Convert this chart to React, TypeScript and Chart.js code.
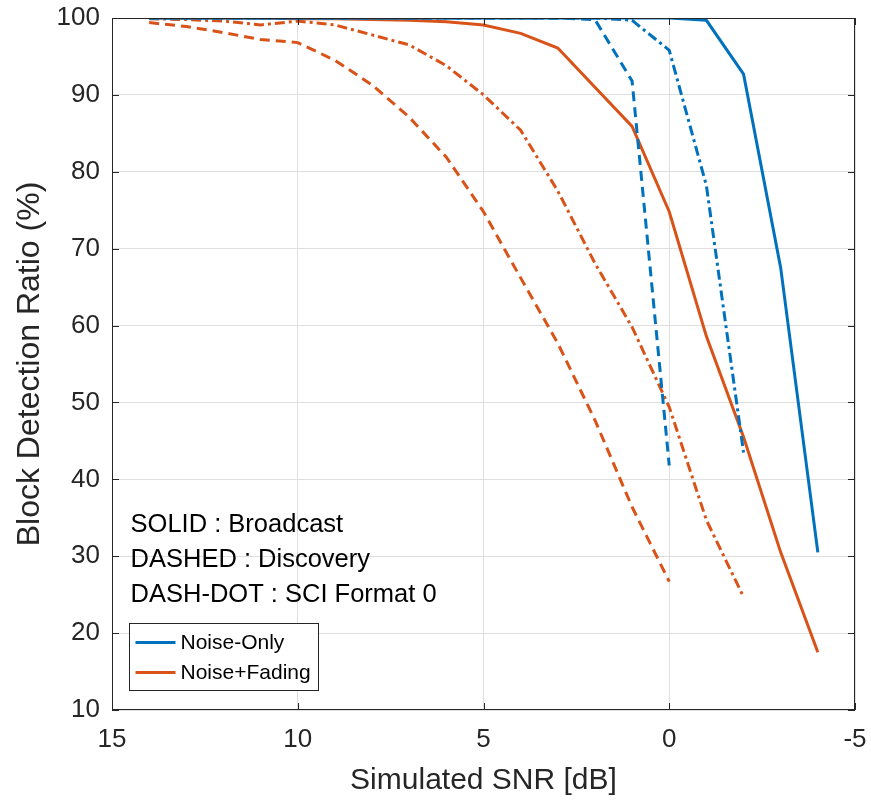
import React, { useEffect, useRef } from 'react';
import { Chart, registerables } from 'chart.js';

Chart.register(...registerables);

// SNR sample points (dB)
const snr = [14, 13, 12, 11, 10, 9, 8, 7, 6, 5, 4, 3, 2, 1, 0, -1, -2, -3, -4];

// Noise-only
const broadcastNoise = [100, 100, 100, 100, 100, 100, 100, 100, 100, 100, 100, 100, 100, 100, 100, 99.7, 92.7, 67.5, 30.5];
const discoveryNoise = [100, 100, 100, 100, 100, 100, 100, 100, 100, 100, 100, 100, 99.8, 91.8, 41.8];
const sciNoise = [100, 100, 100, 100, 100, 100, 100, 100, 100, 100, 100, 100, 100, 99.7, 95.8, 78.2, 43.5];

// Noise + fading
const broadcastFading = [100, 100, 100, 100, 99.9, 99.9, 99.8, 99.7, 99.5, 99.1, 98.0, 96.1, 91.0, 85.9, 74.8, 58.6, 45.5, 30.5, 17.5];
const discoveryFading = [99.4, 98.9, 98.1, 97.2, 96.8, 94.5, 91.3, 87.1, 81.9, 74.8, 66.2, 57.7, 47.7, 36.4, 26.7];
const sciFading = [99.9, 99.8, 99.6, 99.1, 99.6, 99.1, 97.8, 96.5, 93.8, 90.0, 85.4, 77.5, 68.1, 59.8, 49.4, 34.7, 24.7];

const xTicks = [15, 10, 5, 0, -5];
const yTicks = [10, 20, 30, 40, 50, 60, 70, 80, 90, 100];
const legendLabels = ['Noise-Only', 'Noise+Fading'];
const noteLines = ['SOLID : Broadcast', 'DASHED : Discovery', 'DASH-DOT : SCI Format 0'];
const xTitle = 'Simulated SNR [dB]';
const yTitle = 'Block Detection Ratio (%)';

const BLUE = '#0072BD';
const ORANGE = '#D95319';
const INK = '#262626';
const FONT = "'Liberation Sans', Arial, Helvetica, sans-serif";

const DASHED = [10, 6];
const DASHDOT = [10, 4, 3, 4];

const pts = (vals: number[]) => vals.map((v, i) => ({ x: snr[i], y: v }));

const framePlugin = {
  id: 'matlabFrame',
  afterDraw(chart: any) {
    const { ctx, chartArea: a, scales } = chart;
    ctx.save();
    // box
    ctx.strokeStyle = INK;
    ctx.lineWidth = 1;
    ctx.setLineDash([]);
    ctx.strokeRect(a.left + 0.5, a.top + 0.5, a.right - a.left - 1, a.bottom - a.top - 1);
    // inward ticks
    const tl = 7;
    ctx.beginPath();
    xTicks.forEach((v) => {
      const px = Math.round(scales.x.getPixelForValue(v)) + 0.5;
      ctx.moveTo(px, a.bottom);
      ctx.lineTo(px, a.bottom - tl);
      ctx.moveTo(px, a.top);
      ctx.lineTo(px, a.top + tl);
    });
    yTicks.forEach((v) => {
      const py = Math.round(scales.y.getPixelForValue(v)) + 0.5;
      ctx.moveTo(a.left, py);
      ctx.lineTo(a.left + tl, py);
      ctx.moveTo(a.right, py);
      ctx.lineTo(a.right - tl, py);
    });
    ctx.stroke();

    // text notes
    ctx.fillStyle = '#000000';
    ctx.font = `25.5px ${FONT}`;
    ctx.textAlign = 'left';
    ctx.textBaseline = 'middle';
    const noteX = scales.x.getPixelForValue(14.5);
    const noteY = [34.05, 29.5, 24.95];
    noteLines.forEach((t, i) => {
      ctx.fillText(t, noteX, scales.y.getPixelForValue(noteY[i]));
    });

    // legend box
    const lx = a.left + 17.5;
    const lw = 189;
    const lh = 67;
    const ly = a.bottom - 19.5 - lh;
    ctx.fillStyle = '#ffffff';
    ctx.fillRect(lx, ly, lw, lh);
    ctx.strokeStyle = '#262626';
    ctx.lineWidth = 1;
    ctx.strokeRect(lx, ly, lw, lh);
    const colors = [BLUE, ORANGE];
    ctx.font = `21px ${FONT}`;
    legendLabels.forEach((t, i) => {
      const cy = ly + 19 + i * 30;
      ctx.strokeStyle = colors[i];
      ctx.lineWidth = 3;
      ctx.beginPath();
      ctx.moveTo(lx + 6, cy);
      ctx.lineTo(lx + 46, cy);
      ctx.stroke();
      ctx.fillStyle = '#000000';
      ctx.fillText(t, lx + 51, cy + 1);
    });
    ctx.restore();
  },
};

const zeroPad = (s: any) => {
  s.paddingTop = 0;
  s.paddingBottom = 0;
  s.paddingLeft = 0;
  s.paddingRight = 0;
};

export default function App() {
  const ref = useRef<HTMLCanvasElement>(null);

  useEffect(() => {
    document.body.style.margin = '0';
    const canvas = ref.current;
    if (!canvas) return;
    const ds = (label: string, vals: number[], color: string, dash: number[]) => ({
      label,
      data: pts(vals),
      borderColor: color,
      backgroundColor: color,
      borderWidth: 3,
      borderDash: dash,
      pointRadius: 0,
      tension: 0,
      fill: false,
    });
    const chart = new Chart(canvas, {
      type: 'line',
      data: {
        datasets: [
          ds('Broadcast Noise-Only', broadcastNoise, BLUE, []),
          ds('Discovery Noise-Only', discoveryNoise, BLUE, DASHED),
          ds('SCI Noise-Only', sciNoise, BLUE, DASHDOT),
          ds('Broadcast Noise+Fading', broadcastFading, ORANGE, []),
          ds('Discovery Noise+Fading', discoveryFading, ORANGE, DASHED),
          ds('SCI Noise+Fading', sciFading, ORANGE, DASHDOT),
        ],
      },
      options: {
        animation: false,
        responsive: false,
        devicePixelRatio: 1,
        layout: { padding: { top: 18, right: 16, left: 0, bottom: 0 } },
        plugins: { legend: { display: false }, tooltip: { enabled: false } },
        scales: {
          x: {
            type: 'linear',
            min: -5,
            max: 15,
            reverse: true,
            afterFit: (s: any) => { s.height = 91; zeroPad(s); },
            afterBuildTicks: (s: any) => { s.ticks = xTicks.map((v) => ({ value: v })); },
            grid: { color: '#dfdfdf', lineWidth: 1, drawTicks: false },
            border: { display: false },
            ticks: {
              color: INK,
              font: { family: FONT, size: 26 },
              padding: 14,
              maxRotation: 0,
              autoSkip: false,
            },
            title: {
              display: true,
              text: xTitle,
              color: INK,
              font: { family: FONT, size: 30 },
              padding: { top: 0, bottom: 2 },
            },
          },
          y: {
            type: 'linear',
            min: 10,
            max: 100,
            afterFit: (s: any) => { s.width = 112; zeroPad(s); },
            afterBuildTicks: (s: any) => { s.ticks = yTicks.map((v) => ({ value: v })); },
            grid: { color: '#dfdfdf', lineWidth: 1, drawTicks: false },
            border: { display: false },
            ticks: {
              color: INK,
              font: { family: FONT, size: 26 },
              padding: 12,
              autoSkip: false,
            },
            title: {
              display: true,
              text: yTitle,
              color: INK,
              font: { family: FONT, size: 32 },
              padding: { top: 11, bottom: 0 },
            },
          },
        },
      },
      plugins: [framePlugin],
    } as any);
    return () => chart.destroy();
  }, []);

  return (
    <div style={{ width: 871, height: 801, background: '#ffffff' }}>
      <canvas ref={ref} width={871} height={801} style={{ display: 'block' }} />
    </div>
  );
}
